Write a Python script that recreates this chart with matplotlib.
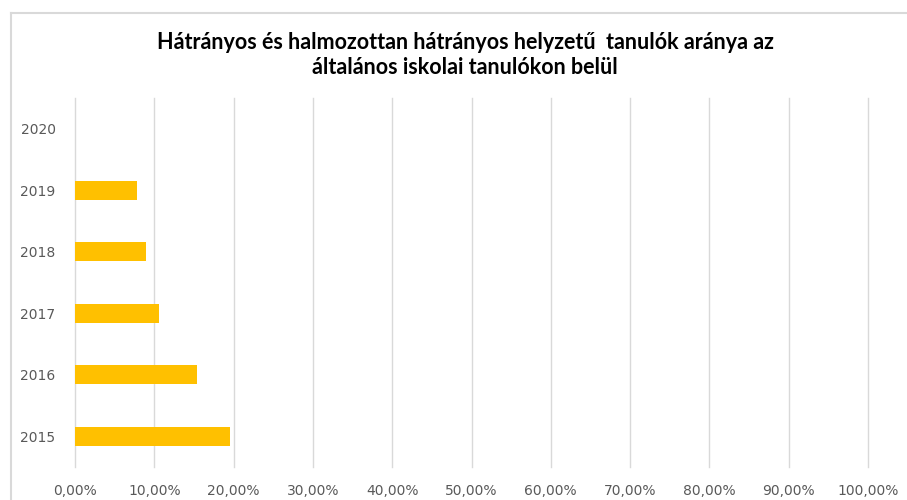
import matplotlib.pyplot as plt
from matplotlib.lines import Line2D
from matplotlib.ticker import FuncFormatter

# data
years = ['2015', '2016', '2017', '2018', '2019', '2020']
shares = [0.196, 0.1535, 0.1065, 0.090, 0.078, 0.0]
x_ticks = [i / 10 for i in range(11)]

title = ('Hátrányos és halmozottan hátrányos helyzetű  tanulók aránya az\n'
         'általános iskolai tanulókon belül')

fig = plt.figure(figsize=(9.07, 5.0), dpi=100)
ax = fig.add_axes([75 / 907, 33 / 500, 793 / 907, 369 / 500])

pos = list(range(len(years)))
ax.barh(pos, shares, height=0.31, color='#FFC000', zorder=3)

ax.set_xlim(0, 1)
ax.set_ylim(-0.5, len(years) - 0.5)
ax.set_xticks(x_ticks)
ax.xaxis.set_major_formatter(FuncFormatter(lambda v, p: f'{v * 100:.2f}%'.replace('.', ',')))
ax.set_yticks(pos)
ax.set_yticklabels(years)

ax.grid(axis='x', color='#D9D9D9', linewidth=1, zorder=0)
for gl in ax.get_xgridlines():
    gl.set_clip_on(False)
for s in ax.spines.values():
    s.set_visible(False)
ax.tick_params(length=0, labelsize=10, colors='#595959')
ax.tick_params(axis='x', pad=12)
ax.tick_params(axis='y', pad=14)

fig.text(465 / 907, 1 - 55 / 500, title, ha='center', va='center',
         fontsize=15.5, fontweight='bold', linespacing=1.22,
         family=['Lato', 'DejaVu Sans'])

# light frame of the chart area (top and left edges show)
fig.add_artist(Line2D([11 / 907, 1], [1 - 13 / 500, 1 - 13 / 500],
                      transform=fig.transFigure, color='#D9D9D9', lw=1.5))
fig.add_artist(Line2D([11 / 907, 11 / 907], [0, 1 - 13 / 500],
                      transform=fig.transFigure, color='#D9D9D9', lw=1.5))

fig.savefig('out.png', dpi=100)
